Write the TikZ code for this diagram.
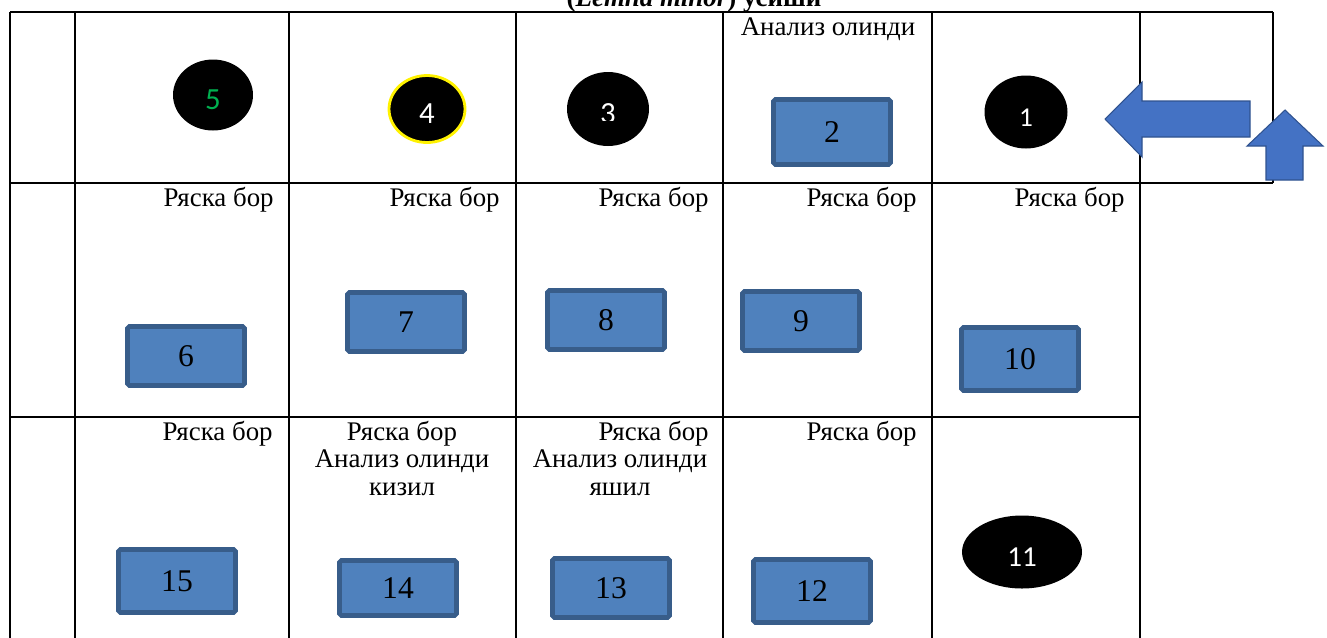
\documentclass[tikz,border=0pt]{standalone}
\usepackage{fontspec}
\setmainfont{Liberation Serif}
\newfontfamily\numfont{Carlito}
\usetikzlibrary{shapes.geometric}
\definecolor{boxfill}{RGB}{79,129,189}
\definecolor{boxline}{RGB}{56,93,138}
\definecolor{arrowfill}{RGB}{68,114,196}
\definecolor{arrowline}{RGB}{47,82,143}
\definecolor{greendigit}{RGB}{0,176,80}
\tikzset{
  sample/.style={draw=boxline, fill=boxfill, line width=2.6pt, rounded corners=1pt,
    minimum width=2.34cm, minimum height=1.18cm, inner sep=0pt,
    font=\fontsize{18}{18}\selectfont},
  spot/.style={ellipse, fill=black, text=white, minimum width=1.6cm, minimum height=1.42cm,
    inner sep=0pt, font=\numfont\fontsize{17.5}{17.5}\selectfont, text height=17pt, text depth=0pt},
  note/.style={font=\fontsize{15.3}{15.6}\selectfont, inner sep=0pt},
  grid/.style={line width=1.1pt},
  blockarrow/.style={fill=arrowfill, draw=arrowline, line width=0.6pt}
}
\begin{document}
\begin{tikzpicture}[x=0.02cm, y=-0.02cm]
            \useasboundingbox (0,0) rectangle (1327,637);

            \node[font=\bfseries\fontsize{15.3}{16}\selectfont, anchor=base, inner sep=0pt] (title) at (694,6) {(\textit{Lemna minor}) усиши};

            % table
            \draw[grid] (10,12) -- (1273,12);
            \draw[grid] (10,183) -- (1273,183);
            \draw[grid] (10,417) -- (1140,417);
            \foreach \x in {10,75,289,516,723,932,1140} \draw[grid] (\x,12) -- (\x,640);
            \draw[grid] (1273,12) -- (1273,183);

            % first row
            \node[spot, text=greendigit] (c5) at (213,95) {5};
            \node[spot, draw=yellow, line width=1.6pt, minimum width=1.52cm, minimum height=1.34cm] (c4) at (427,109) {4};
            \node[spot, minimum width=1.64cm, minimum height=1.48cm] (c3) at (608,109) {};
            \begin{scope}
                \clip (560,60) rectangle (660,120);
                \node[text=white, font=\numfont\fontsize{17.5}{17.5}\selectfont, text height=17pt, text depth=0pt, inner sep=0pt] (n3) at (c3) {3};
            \end{scope}
            \node[note, anchor=base] (a2) at (828,35) {Анализ олинди};
            \node[sample, minimum height=1.3cm] (s2) at (832,132) {2};
            \node[spot, minimum width=1.66cm, minimum height=1.46cm, font=\numfont\fontsize{15.5}{15.5}\selectfont] (c1) at (1026,112) {1};

            \draw[blockarrow] (1105,119) -- (1142,82) -- (1142,101) -- (1250,101) -- (1250,137) -- (1142,137) -- (1142,157) -- cycle;
            \draw[blockarrow] (1285,110) -- (1323,146) -- (1303,146) -- (1303,180) -- (1266,180) -- (1266,146) -- (1247,146) -- cycle;

            % second row
            \node[note, anchor=base east] (r6) at (274,206) {Ряска бор};
            \node[note, anchor=base east] (r7) at (500,206) {Ряска бор};
            \node[note, anchor=base east] (r8) at (709,206) {Ряска бор};
            \node[note, anchor=base east] (r9) at (917,206) {Ряска бор};
            \node[note, anchor=base east] (r10) at (1125,206) {Ряска бор};
            \node[sample] (s6) at (186,356) {6};
            \node[sample] (s7) at (406,322) {7};
            \node[sample] (s8) at (606,320) {8};
            \node[sample] (s9) at (801,321) {9};
            \node[sample, minimum height=1.26cm] (s10) at (1020,359) {10};

            % third row
            \node[note, anchor=base east] (r15) at (273,440) {Ряска бор};
            \node[note, anchor=base, align=center] (r14) at (402,495) {Ряска бор\\Анализ олинди\\кизил};
            \node[note, anchor=base east] (r13) at (709,440) {Ряска бор};
            \node[note, anchor=base, align=center] (a13) at (620,495) {Анализ олинди\\яшил};
            \node[note, anchor=base east] (r12) at (917,440) {Ряска бор};
            \node[sample, minimum height=1.26cm] (s15) at (177,581) {15};
            \node[sample, minimum height=1.1cm] (s14) at (398,588) {14};
            \node[sample] (s13) at (611,588) {13};
            \node[sample, minimum height=1.26cm] (s12) at (812,591) {12};
            \node[spot, minimum width=2.4cm, minimum height=1.46cm, font=\numfont\fontsize{16.5}{16.5}\selectfont] (c11) at (1022,552) {11};
        \end{tikzpicture}
\end{document}
